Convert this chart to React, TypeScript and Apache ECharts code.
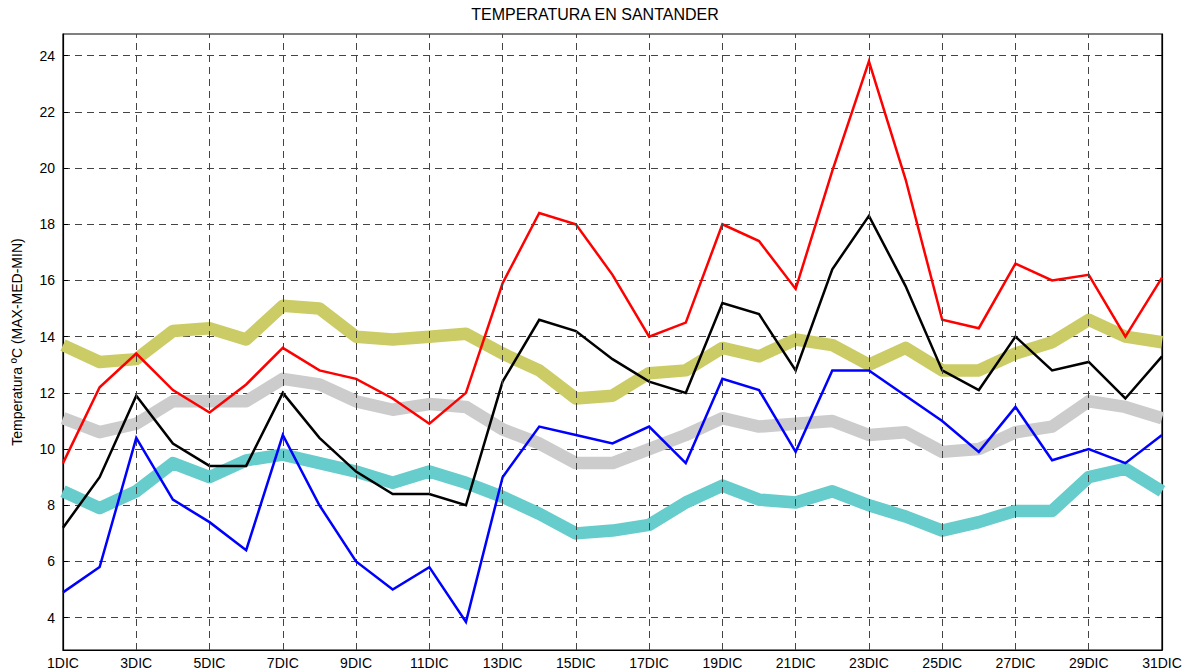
import React, { useEffect, useRef } from "react";
import * as echarts from "echarts";

const days = [
  "1DIC", "2DIC", "3DIC", "4DIC", "5DIC", "6DIC", "7DIC", "8DIC", "9DIC", "10DIC",
  "11DIC", "12DIC", "13DIC", "14DIC", "15DIC", "16DIC", "17DIC", "18DIC", "19DIC", "20DIC",
  "21DIC", "22DIC", "23DIC", "24DIC", "25DIC", "26DIC", "27DIC", "28DIC", "29DIC", "30DIC", "31DIC",
];
// days with a vertical grid line / tick label
const gridDays = [
  "3DIC", "5DIC", "7DIC", "9DIC", "11DIC", "13DIC", "15DIC", "17DIC",
  "19DIC", "21DIC", "23DIC", "25DIC", "27DIC", "29DIC",
];

const yTicks = [4, 6, 8, 10, 12, 14, 16, 18, 20, 22, 24];
const yMin = 2.85;
const yMax = 24.77;

// historical reference bands (thick)
const histMax = [13.7, 13.1, 13.2, 14.2, 14.3, 13.9, 15.1, 15.0, 14.0, 13.9, 14.0, 14.1, 13.4, 12.8, 11.8, 11.9, 12.7, 12.8, 13.6, 13.3, 13.9, 13.7, 13.0, 13.6, 12.8, 12.8, 13.4, 13.8, 14.6, 14.0, 13.8];
const histMed = [11.1, 10.6, 10.9, 11.7, 11.7, 11.7, 12.5, 12.3, 11.7, 11.4, 11.6, 11.5, 10.7, 10.2, 9.5, 9.5, 10.0, 10.5, 11.1, 10.8, 10.9, 11.0, 10.5, 10.6, 9.9, 10.0, 10.6, 10.8, 11.7, 11.5, 11.1];
const histMin = [8.5, 7.9, 8.5, 9.5, 9.0, 9.6, 9.8, 9.5, 9.2, 8.8, 9.2, 8.8, 8.3, 7.7, 7.0, 7.1, 7.3, 8.1, 8.7, 8.2, 8.1, 8.5, 8.0, 7.6, 7.1, 7.4, 7.8, 7.8, 9.0, 9.3, 8.5];

// observed values (thin)
const tMax = [9.5, 12.2, 13.4, 12.1, 11.3, 12.3, 13.6, 12.8, 12.5, 11.8, 10.9, 12.0, 15.9, 18.4, 18.0, 16.2, 14.0, 14.5, 18.0, 17.4, 15.7, 19.9, 23.8, 19.6, 14.6, 14.3, 16.6, 16.0, 16.2, 14.0, 16.1];
const tMed = [7.2, 9.0, 11.9, 10.2, 9.4, 9.4, 12.0, 10.4, 9.2, 8.4, 8.4, 8.0, 12.4, 14.6, 14.2, 13.2, 12.4, 12.0, 15.2, 14.8, 12.8, 16.4, 18.3, 15.8, 12.8, 12.1, 14.0, 12.8, 13.1, 11.8, 13.3];
const tMin = [4.9, 5.8, 10.4, 8.2, 7.4, 6.4, 10.5, 8.0, 6.0, 5.0, 5.8, 3.85, 9.0, 10.8, 10.5, 10.2, 10.8, 9.5, 12.5, 12.1, 9.9, 12.8, 12.8, 11.9, 11.0, 9.9, 11.5, 9.6, 10.0, 9.5, 10.5];

const FONT = "Liberation Sans, Arial, sans-serif";

export default function App() {
  const ref = useRef<HTMLDivElement>(null);
  useEffect(() => {
    document.body.style.margin = "0";
    const chart = echarts.init(ref.current!, null, { renderer: "svg" });
    const dash = { color: "#444", width: 1, type: [7, 5] as any };
    const axisLine = { show: true, onZero: false, lineStyle: { color: "#000", width: 1.2 } };
    const thick = (name: string, data: number[], color: string) => ({
      name, type: "line", data, symbol: "none", z: 2,
      lineStyle: { color, width: 12.5, join: "round", cap: "butt" },
    });
    const thin = (name: string, data: number[], color: string, z: number) => ({
      name, type: "line", data, symbol: "none", z,
      lineStyle: { color, width: 2.5, join: "miter" },
    });
    chart.setOption({
      animation: false,
      backgroundColor: "#fff",
      title: {
        text: "TEMPERATURA EN SANTANDER",
        left: "center",
        top: 1,
        textStyle: { fontFamily: FONT, fontSize: 16, fontWeight: "normal", color: "#000" },
      },
      grid: {
        left: 63, right: 28, top: 34, bottom: 22, containLabel: false, outerBoundsMode: "none",
        show: true, borderColor: "#000", borderWidth: 1.2, backgroundColor: "transparent",
      },
      xAxis: [
        {
          type: "category", data: days, boundaryGap: false, position: "bottom",
          axisLine,
          axisTick: { show: true, inside: true, interval: 1, length: 5, lineStyle: { color: "#000" } },
          axisLabel: { interval: 1, margin: 6, color: "#000", fontFamily: FONT, fontSize: 14 },
          splitLine: { show: false },
          minorSplitLine: { show: false },
        },
      ],
      yAxis: [
        {
          type: "value", min: yMin, max: yMax, position: "left",
          name: "Temperatura ºC (MAX-MED-MIN)",
          nameLocation: "middle", nameGap: 39,
          nameTextStyle: { fontFamily: FONT, fontSize: 14, color: "#000" },
          axisLine,
          axisTick: { show: true, inside: true, length: 5, customValues: yTicks, lineStyle: { color: "#000" } },
          axisLabel: { customValues: yTicks, margin: 8, color: "#000", fontFamily: FONT, fontSize: 14 },
          splitLine: { show: true, lineStyle: dash },
        },
        {
          type: "value", min: yMin, max: yMax, position: "right",
          axisLine,
          axisTick: { show: true, inside: true, length: 5, customValues: yTicks, lineStyle: { color: "#000" } },
          axisLabel: { show: false, customValues: yTicks },
          splitLine: { show: false },
        },
      ],
      series: [
        {
          name: "grid", type: "line", data: [], z: 1, silent: true,
          markLine: {
            silent: true, symbol: ["none", "none"], label: { show: false },
            lineStyle: dash, emphasis: { disabled: true },
            data: gridDays.map((d) => ({ xAxis: d })),
          },
        },
        thick("Máx. histórica", histMax, "#CCCC66"),
        thick("Media histórica", histMed, "#CCCCCC"),
        thick("Mín. histórica", histMin, "#66CCCC"),
        thin("Máxima", tMax, "#FF0000", 3),
        thin("Media", tMed, "#000000", 4),
        thin("Mínima", tMin, "#0000FF", 5),
      ],
    });
    return () => chart.dispose();
  }, []);
  return <div ref={ref} style={{ width: 1190, height: 672 }} />;
}
